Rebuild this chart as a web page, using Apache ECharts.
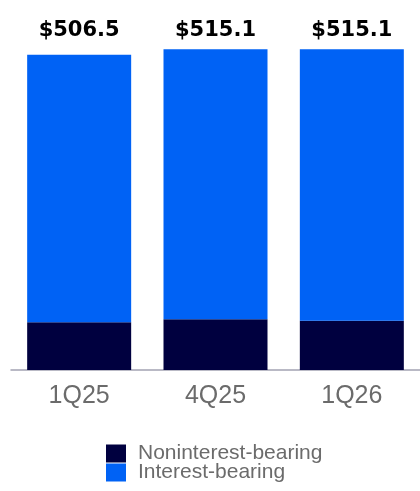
<!DOCTYPE html>
<html>
<head>
<meta charset="utf-8">
<script src="https://cdn.jsdelivr.net/npm/echarts@6/dist/echarts.min.js"></script>
<style>
  html, body { margin: 0; padding: 0; background: #ffffff; }
  #chart { width: 420px; height: 491px; }
</style>
</head>
<body>
<div id="chart"></div>
<script>
// Average deposits by quarter ($B)
const quarters = ['1Q25', '4Q25', '1Q26'];
const noninterestBearing = [76.6, 81.4, 79.2];
const interestBearing = [429.9, 433.7, 435.9];

// Quarter totals shown above each stacked bar
const totals = quarters.map((_, i) =>
  Math.round((noninterestBearing[i] + interestBearing[i]) * 10) / 10
);

const NAVY = '#00003f';
const BLUE = '#0062f5';

const chart = echarts.init(document.getElementById('chart'), null, { renderer: 'canvas' });

chart.setOption({
  animation: false,
  backgroundColor: '#ffffff',
  grid: { left: 11, right: -5, top: 40, bottom: 121, containLabel: false },
  legend: {
    orient: 'vertical',
    left: 106,
    top: 443,
    height: 48,
    padding: 0,
    itemWidth: 20,
    itemHeight: 18,
    itemGap: -2,
    icon: 'rect',
    data: ['Noninterest-bearing', 'Interest-bearing'],
    textStyle: {
      fontFamily: 'Liberation Sans',
      fontSize: 21,
      color: '#6b6b6b',
      padding: [0, 0, 0, 7]
    }
  },
  xAxis: [
    {
      type: 'category',
      data: quarters,
      position: 'bottom',
      axisLine: { show: true, lineStyle: { color: '#a3a3b3', width: 1.5 } },
      axisTick: { show: false },
      axisLabel: {
        margin: 14,
        fontFamily: 'Liberation Sans',
        fontSize: 25,
        color: '#6b6b6b'
      }
    },
    {
      type: 'category',
      data: totals,
      position: 'top',
      axisLine: { show: false },
      axisTick: { show: false },
      axisLabel: {
        margin: -1,
        fontFamily: 'DejaVu Sans',
        fontWeight: 'bold',
        fontSize: 21,
        color: '#000000',
        formatter: v => '$' + Number(v).toFixed(1)
      }
    }
  ],
  yAxis: {
    type: 'value',
    min: 0,
    max: 530,
    show: false,
    splitLine: { show: false }
  },
  series: [
    {
      name: 'Noninterest-bearing',
      type: 'bar',
      stack: 'deposits',
      barWidth: 104,
      itemStyle: { color: NAVY },
      data: noninterestBearing
    },
    {
      name: 'Interest-bearing',
      type: 'bar',
      stack: 'deposits',
      barWidth: 104,
      itemStyle: { color: BLUE },
      data: interestBearing
    }
  ]
});
</script>
</body>
</html>
